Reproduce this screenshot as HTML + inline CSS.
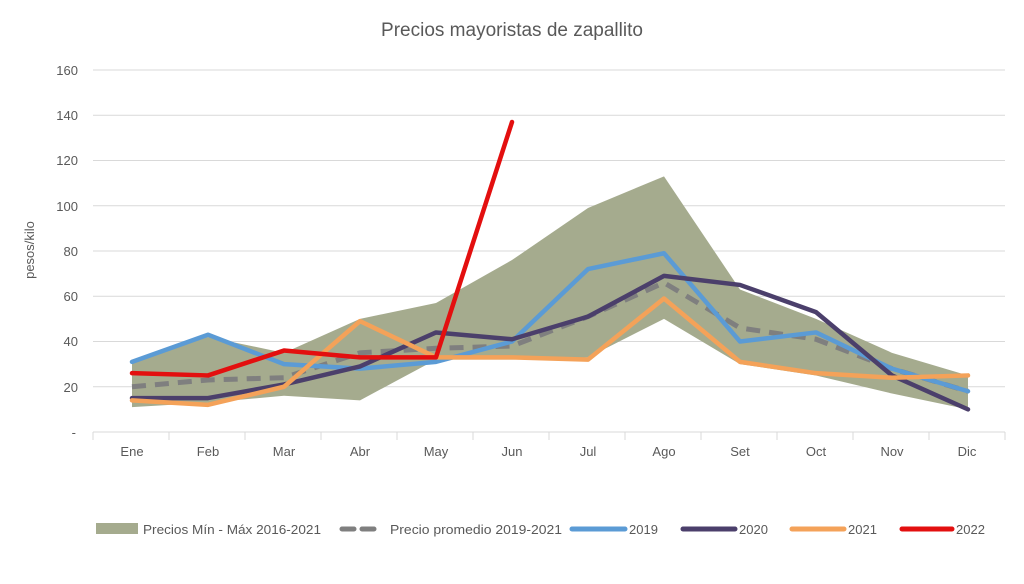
<!DOCTYPE html>
<html><head><meta charset="utf-8"><style>
body{margin:0;background:#fff;width:1024px;height:579px;overflow:hidden}
text{font-family:"Liberation Sans",sans-serif;fill:#595959}
</style></head><body>
<svg id="s" width="1024" height="579" xmlns="http://www.w3.org/2000/svg">
<text x="512" y="36" font-size="19" text-anchor="middle" fill="#404040">Precios mayoristas de zapallito</text>
<g id="grid" stroke="#d9d9d9" stroke-width="1"></g>
<g font-size="13" text-anchor="end">
<text x="78" y="75">160</text><text x="78" y="120">140</text><text x="78" y="165">120</text>
<text x="78" y="211">100</text><text x="78" y="256">80</text><text x="78" y="301">60</text>
<text x="78" y="346">40</text><text x="78" y="392">20</text><text x="76" y="437">-</text>
</g>
<text transform="translate(34,250) rotate(-90)" font-size="13" text-anchor="middle">pesos/kilo</text>
<g font-size="13" text-anchor="middle">
<text x="132" y="456">Ene</text><text x="208" y="456">Feb</text><text x="284" y="456">Mar</text>
<text x="360" y="456">Abr</text><text x="436" y="456">May</text><text x="512" y="456">Jun</text>
<text x="588" y="456">Jul</text><text x="664" y="456">Ago</text><text x="740" y="456">Set</text>
<text x="816" y="456">Oct</text><text x="892" y="456">Nov</text><text x="967" y="456">Dic</text>
</g>
<g id="series"></g>
<g font-size="13">
<rect x="96" y="523" width="42" height="11" fill="#a5ab8e"/>
<text x="143" y="534" textLength="178" lengthAdjust="spacingAndGlyphs">Precios Mín - Máx 2016-2021</text>
<line x1="342" y1="529" x2="382" y2="529" stroke="#7f7f7f" stroke-width="5" stroke-dasharray="12,8" stroke-linecap="round"/>
<text x="390" y="534" textLength="172" lengthAdjust="spacingAndGlyphs">Precio promedio 2019-2021</text>
<line x1="572" y1="529" x2="625" y2="529" stroke="#5b9bd5" stroke-width="5" stroke-linecap="round"/>
<text x="629" y="534">2019</text>
<line x1="683" y1="529" x2="735" y2="529" stroke="#4b3f6b" stroke-width="5" stroke-linecap="round"/>
<text x="739" y="534">2020</text>
<line x1="792" y1="529" x2="844" y2="529" stroke="#f4a259" stroke-width="5" stroke-linecap="round"/>
<text x="848" y="534">2021</text>
<line x1="902" y1="529" x2="952" y2="529" stroke="#e30f0f" stroke-width="5" stroke-linecap="round"/>
<text x="956" y="534">2022</text>
</g>
</svg>
<script>
function X(i){return 132+i*76}
function Y(v){return 432-v*2.2625}
var g=document.getElementById("grid"),h="";
for(var k=0;k<=8;k++){var y=Y(k*20);h+='<line x1="93" x2="1005" y1="'+y+'" y2="'+y+'"/>';}
for(var k=0;k<=12;k++){var x=93+k*76;h+='<line x1="'+x+'" x2="'+x+'" y1="432" y2="440"/>';}
g.innerHTML=h;
var mx=[31,42,35,50,57,76,99,113,63,50,35,25],mn=[11,13,16,14,32,32,33,50,30,25,17,10];
function pts(a){return a.map(function(v,i){return X(i)+","+Y(v)}).join(" ")}
var poly=pts(mx)+" "+mn.map(function(v,i){return X(i)+","+Y(v)}).reverse().join(" ");
var s='<polygon points="'+poly+'" fill="#a5ab8e"/>';
s+='<polyline points="'+pts([20,23,24,35,37,38,51,66,46,41,28,18])+'" fill="none" stroke="#7f7f7f" stroke-width="5" stroke-dasharray="14,9"/>';
var L=[["#5b9bd5",[31,43,30,28,31,40,72,79,40,44,28,18]],["#4b3f6b",[15,15,21,29,44,41,51,69,65,53,25,10]],["#f4a259",[14,12,20,49,33,33,32,59,31,26,24,25]],["#e30f0f",[26,25,36,33,33,137]]];
L.forEach(function(l){s+='<polyline points="'+pts(l[1])+'" fill="none" stroke="'+l[0]+'" stroke-width="4.5" stroke-linejoin="round" stroke-linecap="round"/>';});
document.getElementById("series").innerHTML=s;
</script>
</body></html>
